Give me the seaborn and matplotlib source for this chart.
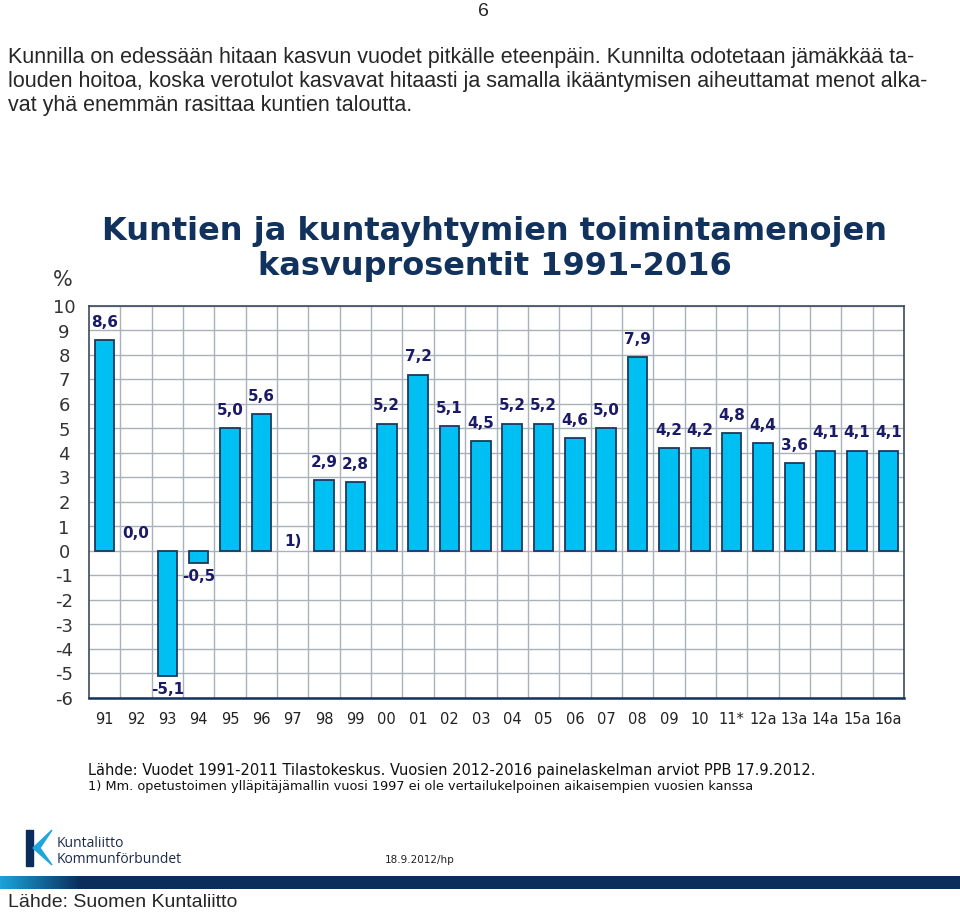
import numpy as np
import pandas as pd
import matplotlib
matplotlib.use("Agg")
import matplotlib.pyplot as plt
import seaborn as sns
from matplotlib.patches import Polygon, Rectangle

# --- data ---
years = ["91", "92", "93", "94", "95", "96", "97", "98", "99", "00", "01", "02", "03",
         "04", "05", "06", "07", "08", "09", "10", "11*", "12a", "13a", "14a", "15a", "16a"]
growth = [8.6, 0.0, -5.1, -0.5, 5.0, 5.6, np.nan, 2.9, 2.8, 5.2, 7.2, 5.1, 4.5,
          5.2, 5.2, 4.6, 5.0, 7.9, 4.2, 4.2, 4.8, 4.4, 3.6, 4.1, 4.1, 4.1]
yticks = list(range(-6, 11))

title = "Kuntien ja kuntayhtymien toimintamenojen\nkasvuprosentit 1991-2016"
paragraph = ["Kunnilla on edessään hitaan kasvun vuodet pitkälle eteenpäin. Kunnilta odotetaan jämäkkää ta-",
             "louden hoitoa, koska verotulot kasvavat hitaasti ja samalla ikääntymisen aiheuttamat menot alka-",
             "vat yhä enemmän rasittaa kuntien taloutta."]
source1 = "Lähde: Vuodet 1991-2011 Tilastokeskus. Vuosien 2012-2016 painelaskelman arviot PPB 17.9.2012."
source2 = "1) Mm. opetustoimen ylläpitäjämallin vuosi 1997 ei ole vertailukelpoinen aikaisempien vuosien kanssa"

df = pd.DataFrame({"year": years, "growth": growth})

NAVY = "#12325e"
LABEL = "#1a1a66"
BAR = "#00bff2"

sns.set_style("white")
plt.rcParams["font.family"] = ["DejaVu Sans"]
plt.rcParams["axes.unicode_minus"] = False

fig = plt.figure(figsize=(9.6, 9.13), dpi=100)
ax = fig.add_axes([89 / 960, 1 - 698 / 913, 815 / 960, 392 / 913])

sns.barplot(data=df.dropna(), x="year", y="growth", order=years, color=BAR,
            width=0.62, edgecolor="#1b3a5c", linewidth=1.3, saturation=1, ax=ax, zorder=3)
# a zero-height bar shows as a flat line; hide it
for p in ax.patches:
    if abs(p.get_height()) < 1e-9:
        p.set_visible(False)

ax.set_ylim(-6, 10)
ax.set_xlim(-0.5, len(years) - 0.5)
ax.set_yticks(yticks)
ax.set_yticks(np.arange(-5.5, 10, 1.0), minor=True)
ax.set_xticks(np.arange(0.5, len(years) - 1, 1.0), minor=True)
ax.grid(True, axis="y", which="major", color="#a9b1ba", lw=1, zorder=0)
ax.grid(True, axis="x", which="minor", color="#a9b1ba", lw=1, zorder=0)
ax.set_xlabel("")
ax.set_ylabel("")
ax.tick_params(axis="y", which="major", length=0, pad=18, labelsize=13, labelcolor="#333333")
ax.tick_params(axis="y", which="minor", direction="in", length=4, color="#6a7480")
ax.tick_params(axis="x", which="both", length=0, pad=10, labelsize=10.5, labelcolor="#222222")
for t in ax.get_yticklabels():
    t.set_horizontalalignment("center")
for s in ax.spines.values():
    s.set_color("#3a4a5e")
    s.set_linewidth(1.2)
ax.spines["bottom"].set_color(NAVY)
ax.spines["bottom"].set_linewidth(1.8)

# value labels
for i, v in enumerate(growth):
    if np.isnan(v):
        ax.text(i, 0.4, "1)", ha="center", va="center", fontsize=11,
                fontweight="bold", color=LABEL, zorder=4)
        continue
    txt = f"{v:.1f}".replace(".", ",")
    y = v + 0.72 if v >= 0 else v - 0.55
    ax.text(i, y, txt, ha="center", va="center", fontsize=11,
            fontweight="bold", color=LABEL, zorder=4)

# titles and page text
fig.text(495 / 960, 1 - 249 / 913, title, ha="center", va="center", fontsize=23,
         fontweight="bold", color=NAVY, linespacing=1.15)
fig.text(63 / 960, 1 - 280 / 913, "%", ha="center", va="center", fontsize=15, color="#333333")
fig.text(483 / 960, 1 - 12 / 913, "6", ha="center", va="center", fontsize=14,
         family="Liberation Sans")
for k, line in enumerate(paragraph):
    fig.text(8 / 960, 1 - (58 + 24 * k) / 913, line, ha="left", va="center", fontsize=15.5,
             family="Liberation Sans")
fig.text(88 / 960, 1 - 770 / 913, source1, ha="left", va="center", fontsize=10.5, color="#111111")
fig.text(88 / 960, 1 - 786 / 913, source2, ha="left", va="center", fontsize=9.3, color="#111111")

# logo
fig.patches.append(Rectangle((26 / 960, 1 - 866 / 913), 7 / 960, 36 / 913,
                             transform=fig.transFigure, color="#0b2d5b"))
fig.patches.append(Polygon([(33 / 960, 1 - 848 / 913), (52 / 960, 1 - 830 / 913),
                            (40 / 960, 1 - 848 / 913), (52 / 960, 1 - 865 / 913)],
                           closed=True, transform=fig.transFigure, color="#1ea6dc"))
fig.text(57 / 960, 1 - 843 / 913, "Kuntaliitto", ha="left", va="center", fontsize=10,
         color="#1b2a4a", family="Open Sans")
fig.text(57 / 960, 1 - 859 / 913, "Kommunförbundet", ha="left", va="center", fontsize=10,
         color="#1b2a4a", family="Open Sans")
fig.text(420 / 960, 1 - 860 / 913, "18.9.2012/hp", ha="center", va="center", fontsize=7.5,
         color="#222222")

# gradient band
band = fig.add_axes([0, 1 - 889 / 913, 1, 13 / 913])
grad = np.linspace(0, 1, 400)
grad = np.clip(grad * 12, 0, 1)[None, :]
cmap = matplotlib.colors.LinearSegmentedColormap.from_list("band", ["#1aa3d9", "#0b2d5b"])
band.imshow(grad, aspect="auto", cmap=cmap, extent=(0, 1, 0, 1))
band.axis("off")

fig.text(8 / 960, 1 - 902 / 913, "Lähde: Suomen Kuntaliitto", ha="left", va="center",
         fontsize=14, family="Liberation Sans")

fig.savefig("out.png", dpi=100)
